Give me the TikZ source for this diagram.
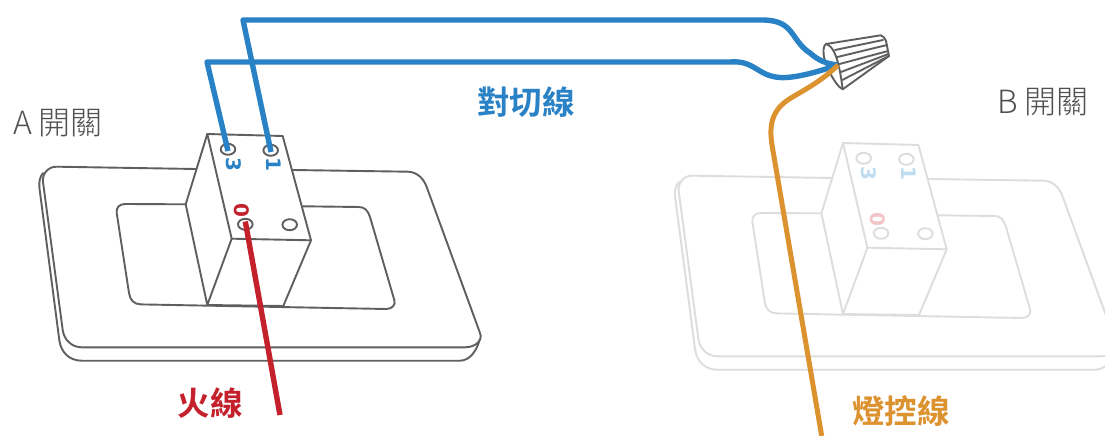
\documentclass[tikz,border=0pt]{standalone}
\usepackage{fontspec}
\newfontfamily\cjkb{Noto Sans CJK TC Bold}
\newfontfamily\cjkl{Noto Sans CJK TC Light}
\newfontfamily\pinfont{DejaVu Sans}
\definecolor{wireblue}{HTML}{2981C6}
\definecolor{wirered}{HTML}{C4212C}
\definecolor{wireorange}{HTML}{DD9230}
\definecolor{linegray}{HTML}{5F5F5F}
\definecolor{fadegray}{HTML}{DDDDDD}
\definecolor{fadeblue}{HTML}{BFDDF1}
\definecolor{fadered}{HTML}{F2C6C8}
\definecolor{textgray}{HTML}{505050}
\tikzset{
  outline/.style={line width=1.9pt,line join=round,line cap=round},
  wire/.style={line width=5.4pt,line join=round},
  pin/.style={font=\pinfont\bfseries\fontsize{20}{20}\selectfont,rotate=-90,inner sep=0pt},
  biglabel/.style={font=\cjkb\fontsize{32.5}{32.5}\selectfont,inner sep=0pt},
  thinlabel/.style={font=\cjkl\fontsize{32}{32}\selectfont,text=textgray,inner sep=0pt},
}
\newcommand{\switchdrawing}[5]{%
  \begin{scope}[shift={(#2,#3)}]
    \draw[outline,draw=#1]
      (195.7,169) -- (56.7,166.7) .. controls (48,166.5) and (42,174) .. (43,182)
      -- (62.7,330) .. controls (64,340) and (72,347.3) .. (81.7,347.3)
      -- (465,347.3) .. controls (476,347.3) and (483,340) .. (480,333)
      -- (426.7,187) .. controls (423,177) and (416,172) .. (408,171.7)
      -- (293,170);
    \draw[outline,draw=#1]
      (43,173) .. controls (40,177) and (39,181) .. (39.3,187)
      -- (59.3,340) .. controls (61,353) and (70,360.7) .. (81.7,360.7)
      -- (460,360.7) .. controls (470,360.7) and (477,350) .. (479.5,340);
    \draw[outline,draw=#1]
      (185.7,204.3) -- (125,204) .. controls (119,204) and (116,208) .. (116.7,213)
      -- (129,293) .. controls (130,300) and (134,304.3) .. (141,304.4)
      -- (386,309) .. controls (392,309) and (396,305) .. (394.3,300)
      -- (370,217) .. controls (368,211) and (365,207) .. (359,207)
      -- (302.7,206.3);
    \draw[outline,draw=#1]
      (207.3,134) -- (282.7,136) -- (311,240.3) -- (231.7,238.7) -- cycle;
    \draw[outline,draw=#1]
      (207.3,134) -- (185.7,204.3) -- (207.3,305) -- (231.7,238.7);
    \draw[outline,draw=#1]
      (207.3,305) -- (283.3,306) -- (311,240.3);
    \draw[outline,draw=#1] (228,149.3) ellipse (7.3 and 5.5);
    \draw[outline,draw=#1] (270.7,150.3) ellipse (7.3 and 5.5);
    \draw[outline,draw=#1] (245.3,224.3) ellipse (7.3 and 5.5);
    \draw[outline,draw=#1] (289.7,224.7) ellipse (7.3 and 5.5);
    \node[pin,text=#4] (#5three) at (233.5,164) {3};
    \node[pin,text=#4] (#5one) at (273.5,164.5) {1};
    \node[pin,text=#5red] (#5zero) at (241.7,210) {0};
  \end{scope}}
\colorlet{Ared}{wirered}
\colorlet{Bred}{fadered}
\begin{document}
\begin{tikzpicture}[x=1pt,y=-1pt]
  \useasboundingbox (0,0) rectangle (1105,436);
  \fill[white] (0,0) rectangle (1105,436);
  \switchdrawing{linegray}{0}{0}{wireblue}{A}
  \switchdrawing{fadegray}{635.7}{9}{fadeblue}{B}
  % connector cap
  \draw[outline,draw=linegray]
    (826,44) -- (880.7,35.3) .. controls (883,36) and (885,38) .. (886,41)
    -- (889,56) -- (842.7,89.3) .. controls (835,86) and (822,60) .. (823.5,50)
    .. controls (824,46) and (825,44.5) .. (826,44);
  \draw[outline,draw=linegray]
    (826,44) .. controls (834,46) and (839,60) .. (842.7,89.3);
  \draw[outline,draw=linegray] (835,50) -- (883,40);
  \draw[outline,draw=linegray] (837.5,57) -- (887,45);
  \draw[outline,draw=linegray] (839.5,64) -- (888,51);
  \draw[outline,draw=linegray] (841,72) -- (888.5,54);
  \draw[outline,draw=linegray] (842.3,80) -- (888.8,56);
  % wire ends
  \coordinate (hole3) at (228,151);
  \coordinate (hole1) at (271,152);
  \coordinate (hole0) at (245.3,221.5);
  \coordinate (joint) at (838,65);
  \coordinate (redend) at (280,415);
  \coordinate (orangeend) at (821.7,436);
  \draw[wire,wireblue] (hole3) -- (207,62) -- (730,62)
    .. controls (755,60) and (757,76) .. (780,77.5)
    .. controls (796,78.5) and (820,71) .. (joint);
  \draw[wire,wireblue] (hole1) -- (243,20) -- (762,20)
    .. controls (795,20) and (790,40) .. (810,53)
    .. controls (818,60) and (826,64) .. (joint);
  \draw[wire,wireorange,line width=5pt] (joint)
    .. controls (825,78) and (810,87) .. (793,96.7)
    .. controls (775,107) and (768,120) .. (772,145)
    -- (orangeend);
  \draw[wire,wirered] (hole0) -- (redend);
  % labels
  \node[biglabel,text=wireblue] (feed) at (526,102) {對切線};
  \node[biglabel,text=wirered] (live) at (210,403) {火線};
  \node[biglabel,text=wireorange] (lamp) at (901,411) {燈控線};
  \node[thinlabel] (swa) at (58,123) {A 開關};
  \node[thinlabel] (swb) at (1043,102) {B 開關};
\end{tikzpicture}
\end{document}
